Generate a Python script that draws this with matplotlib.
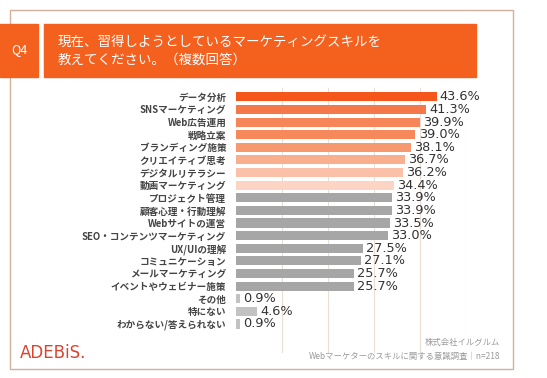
import matplotlib.pyplot as plt
from matplotlib.patches import Rectangle

plt.rcParams['font.family'] = ['Noto Sans CJK JP', 'DejaVu Sans']

# ------------------------------------------------------------------
# Daten
# ------------------------------------------------------------------
labels = [
    'データ分析', 'SNSマーケティング', 'Web広告運用', '戦略立案',
    'ブランディング施策', 'クリエイティブ思考', 'デジタルリテラシー',
    '動画マーケティング', 'プロジェクト管理', '顧客心理・行動理解',
    'Webサイトの運営', 'SEO・コンテンツマーケティング', 'UX/UIの理解',
    'コミュニケーション', 'メールマーケティング', 'イベントやウェビナー施策',
    'その他', '特にない', 'わからない/答えられない',
]
values = [43.6, 41.3, 39.9, 39.0, 38.1, 36.7, 36.2, 34.4, 33.9, 33.9,
          33.5, 33.0, 27.5, 27.1, 25.7, 25.7, 0.9, 4.6, 0.9]
colors = ['#F4561C', '#F5784A', '#F6855A', '#F6885A', '#F7996F', '#F9AE8E',
          '#FAC1A8', '#FBD4C4'] + ['#A6A6A6'] * 8 + ['#C2C2C2'] * 3

W, H = 547, 378
fig = plt.figure(figsize=(W / 100, H / 100), dpi=100)


def fx(px):
    return px / W


def fy(py):
    return 1 - py / H


# Rahmen
fig.patches.append(Rectangle((fx(10), fy(369)), fx(503), (369 - 10) / H,
                             transform=fig.transFigure, fill=False,
                             edgecolor='#D2B09C', linewidth=1.0))

# Kopfzeile
orange = '#F4601E'
fig.patches.append(Rectangle((fx(0), fy(77)), fx(38), 53 / H,
                             transform=fig.transFigure, color=orange))
fig.patches.append(Rectangle((fx(44), fy(77)), fx(432), 53 / H,
                             transform=fig.transFigure, color=orange))
fig.text(fx(19), fy(50), 'Q4', color='white', fontsize=9,
         ha='center', va='center')
fig.text(fx(58), fy(42), '現在、習得しようとしているマーケティングスキルを',
         color='white', fontsize=9.7, ha='left', va='center')
fig.text(fx(58), fy(60), '教えてください。（複数回答）',
         color='white', fontsize=9.7, ha='left', va='center')

# ------------------------------------------------------------------
# Balkendiagramm
# ------------------------------------------------------------------
y_top, y_bot = 88, 353
ax = fig.add_axes([fx(236), fy(y_bot), fx(466 - 236), (y_bot - y_top) / H])
pos = list(range(len(labels)))
ax.barh(pos, values, height=0.72, color=colors, zorder=2)
ax.set_xlim(0, 50)
ax.set_ylim(20.3, -0.7)
ax.set_xticks([10, 20, 30, 40, 50])
ax.grid(axis='x', color='#EADFD5', linewidth=0.8, zorder=0)
ax.tick_params(axis='x', length=0, labelbottom=False)
ax.tick_params(axis='y', length=0, pad=7)
ax.set_yticks(pos)
ax.set_yticklabels(labels, fontsize=6.9, fontweight='bold', color='#444444')
for s in ax.spines.values():
    s.set_visible(False)

for p, v in zip(pos, values):
    ax.text(v + 0.7, p, f'{v:.1f}%', va='center', ha='left',
            fontsize=9.3, color='#333333', family='DejaVu Sans')

# ------------------------------------------------------------------
# Fußzeile
# ------------------------------------------------------------------
fig.text(fx(20), fy(353), 'ADEBiS.', color='#D9442E', fontsize=12,
         ha='left', va='center', family='DejaVu Sans')
fig.text(fx(500), fy(343), '株式会社イルグルム', color='#9A9A9A',
         fontsize=6, ha='right', va='center')
fig.text(fx(500), fy(356), 'Webマーケターのスキルに関する意識調査｜n=218',
         color='#9A9A9A', fontsize=6, ha='right', va='center')

plt.savefig('out.png', dpi=100)
